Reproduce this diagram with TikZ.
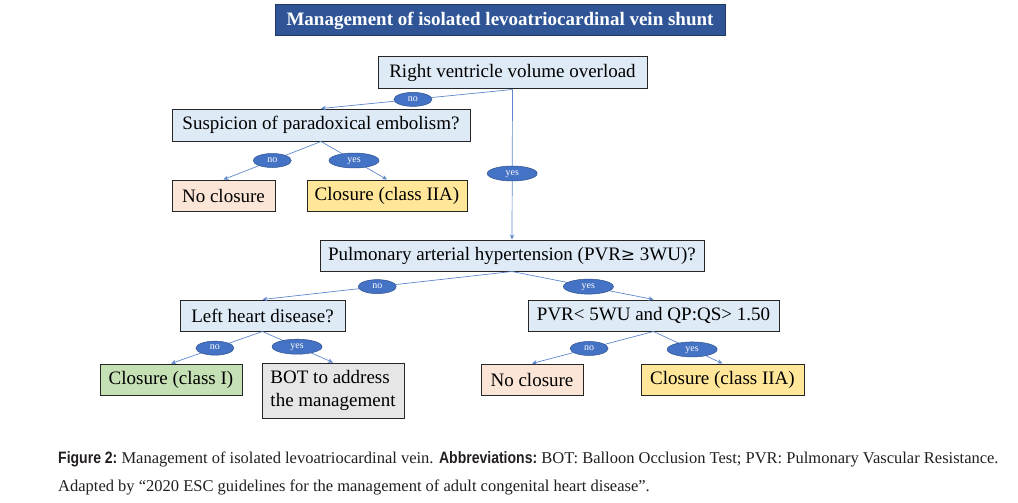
\documentclass[tikz,border=0pt]{standalone}
\usepackage{fontspec}
\setmainfont{Liberation Serif}
\setsansfont{Liberation Sans}
\newfontfamily\symfont{DejaVu Serif}
\usetikzlibrary{shapes.geometric,arrows.meta}
\definecolor{titleblue}{HTML}{2F5597}
\definecolor{titleedge}{HTML}{1F3864}
\definecolor{boxblue}{HTML}{DEEBF7}
\definecolor{boxpeach}{HTML}{FBE5D6}
\definecolor{boxyellow}{HTML}{FFE699}
\definecolor{boxgreen}{HTML}{C5E0B4}
\definecolor{boxgray}{HTML}{E7E6E6}
\definecolor{linkblue}{HTML}{4472C4}
\definecolor{ellblue}{HTML}{4472C4}
\definecolor{elledge}{HTML}{2F528F}
\definecolor{captext}{HTML}{231F20}
\tikzset{
  qbox/.style={draw=black!85, line width=1pt, inner sep=0pt, align=center,
    font=\fontsize{19}{23}\selectfont},
  link/.style={draw=linkblue!85, line width=0.7pt, -{Stealth[length=5pt,width=4.5pt]}},
  lab/.style={ellipse, fill=ellblue, draw=elledge, line width=0.5pt, inner sep=0pt,
    text=white, font=\fontsize{10}{11}\selectfont, text height=5pt, text depth=1.5pt},
  labno/.style={lab, minimum width=38pt, minimum height=14pt},
  labyes/.style={lab, minimum width=50pt, minimum height=15pt},
}
\begin{document}
\begin{tikzpicture}[x=1pt,y=-1pt]
\useasboundingbox (0,0) rectangle (1018,503);
\node[draw=titleedge, fill=titleblue, line width=1pt, minimum width=450pt, minimum height=31pt, inner sep=0pt,
  text=white, font=\bfseries\fontsize{19}{22}\selectfont] (title) at (500,20.5) {Management of isolated levoatriocardinal vein shunt};

\node[qbox, fill=boxblue, minimum width=269pt, minimum height=32pt] (root) at (512.5,73) {Right ventricle volume overload};
\node[qbox, fill=boxblue, minimum width=298pt, minimum height=32pt] (susp) at (321,125) {Suspicion of paradoxical embolism?};
\node[qbox, fill=boxpeach, minimum width=103pt, minimum height=31pt] (nc1) at (223.5,195.5) {No closure};
\node[qbox, fill=boxyellow, minimum width=160pt, minimum height=31pt] (cIIa1) at (387,195.5) {Closure (class IIA)};
\node[qbox, fill=boxblue, minimum width=384pt, minimum height=31pt] (pah) at (512,255.5) {Pulmonary arterial hypertension (PVR{\symfont\fontsize{17}{19}\selectfont≥} 3WU)?};
\node[qbox, fill=boxblue, minimum width=165pt, minimum height=31pt] (lhd) at (262.5,315.5) {Left heart disease?};
\node[qbox, fill=boxblue, minimum width=251pt, minimum height=31pt] (pvr) at (653.5,315.5) {PVR{\textless} 5WU and QP:QS{\textgreater} 1.50};
\node[qbox, fill=boxgreen, minimum width=142pt, minimum height=31pt] (cI) at (171,379.5) {Closure (class I)};
\node[qbox, fill=boxgray, minimum width=142pt, minimum height=55pt, align=left] (bot) at (333,390.5) {BOT to address\\the management};
\node[qbox, fill=boxpeach, minimum width=102pt, minimum height=31pt] (nc2) at (532,379.5) {No closure};
\node[qbox, fill=boxyellow, minimum width=163pt, minimum height=31pt] (cIIa2) at (722.5,379.5) {Closure (class IIA)};

\draw[link] (root.south) -- node[labno, pos=0.52] (l1) {no} (susp.north);
\draw[link] (root.south) -- node[labyes, pos=0.56] (l2) {yes} (pah.north);
\draw[link] (susp.south) -- node[labno, pos=0.5] (l3) {no} (nc1.north);
\draw[link] (susp.south) -- node[labyes, pos=0.5] (l4) {yes} (cIIa1.north);
\draw[link] (pah.south) -- node[labno, pos=0.54] (l5) {no} (lhd.north);
\draw[link] (pah.south) -- node[labyes, pos=0.54] (l6) {yes} (pvr.north);
\draw[link] (lhd.south) -- node[labno, pos=0.52] (l7) {no} (cI.north);
\draw[link] (lhd.south) -- node[labyes, pos=0.49] (l8) {yes} (bot.north);
\draw[link] (pvr.south) -- node[labno, pos=0.53] (l9) {no} (nc2.north);
\draw[link] (pvr.south) -- node[labyes, pos=0.56] (l10) {yes} (cIIa2.north);

\node[anchor=base west, inner sep=0pt, text=captext, font=\fontsize{16.5}{18}\selectfont] (cap1) at (58,463)
  {{\sffamily\bfseries\scalebox{0.85}[1]{Figure 2:}} Management of isolated levoatriocardinal vein. {\sffamily\bfseries\scalebox{0.85}[1]{Abbreviations:}} BOT: Balloon Occlusion Test; PVR: Pulmonary Vascular Resistance.};
\node[anchor=base west, inner sep=0pt, text=captext, font=\fontsize{16.5}{18}\selectfont] (cap2) at (58,491)
  {Adapted by “2020 ESC guidelines for the management of adult congenital heart disease”.};
\end{tikzpicture}
\end{document}
